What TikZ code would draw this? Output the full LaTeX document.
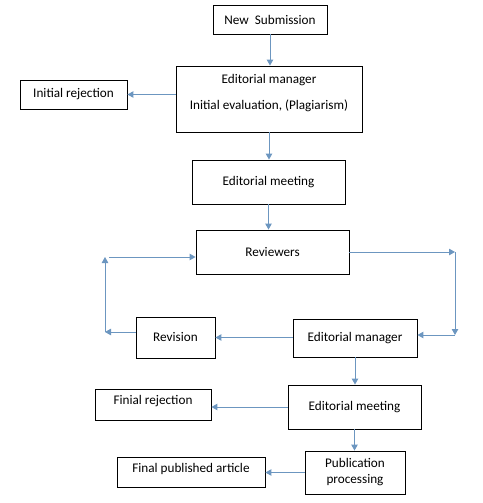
\documentclass[tikz,border=0pt]{standalone}
\usepackage{fontspec}
\setmainfont{Carlito}
\usetikzlibrary{arrows.meta}
\definecolor{arr}{RGB}{108,150,192}
\begin{document}
\begin{tikzpicture}[x=1pt,y=-1pt,
  box/.style={draw=black,line width=0.9pt,inner sep=0pt,align=center,font=\fontsize{13.2}{16}\selectfont},
  txt/.style={inner sep=0pt,align=center,font=\fontsize{13.2}{16}\selectfont},
  conn/.style={draw=arr,line width=1pt,-{Triangle[length=6pt,width=6.5pt]}}]
\useasboundingbox (0,0) rectangle (482,503);
\node[box,minimum width=114,minimum height=29] (ns) at (270,19.5) {New\ \ Submission};
\node[box,minimum width=186,minimum height=66] (em1) at (269,99) {};
\node[txt] (em1t) at (269,93.5) {Editorial manager\\[10pt]Initial evaluation, (Plagiarism)};
\node[box,minimum width=107,minimum height=29] (ir) at (73.5,94.5) {Initial rejection};
\node[box,minimum width=153,minimum height=44] (emeet1) at (268.5,182) {Editorial meeting};
\node[box,minimum width=153,minimum height=44] (rev) at (272.5,252) {Reviewers};
\node[box,minimum width=124,minimum height=38] (em2) at (355,338) {Editorial manager};
\node[box,minimum width=79,minimum height=41] (revis) at (175.5,337.5) {Revision};
\node[box,minimum width=133,minimum height=44] (emeet2) at (354.5,407) {Editorial meeting};
\node[box,minimum width=116,minimum height=31] (fr) at (153,404.5) {};
\node[txt] (frt) at (153,401) {Finial rejection};
\node[box,minimum width=100,minimum height=43] (pp) at (355,472.5) {Publication\\processing};
\node[box,minimum width=148,minimum height=30] (fpa) at (191,472) {};
\node[txt] (fpat) at (191,469) {Final published article};
\coordinate (c1) at (455,252);
\coordinate (c2) at (455,335);
\coordinate (c3) at (105,332);
\coordinate (c4) at (105,257);
\coordinate (c5) at (109,257);
\draw[conn] (ns.south) -- (ns.south |- em1.north);
\draw[conn] (em1.west |- ir.east) -- (ir.east);
\draw[conn] (em1.south) -- (em1.south |- emeet1.north);
\draw[conn] (emeet1.south) -- (emeet1.south |- rev.north);
\draw[conn] (rev.east) -- (c1);
\draw[conn] (c1) -- (c2);
\draw[conn] (c2) -- (em2.east |- c2);
\draw[conn] (em2.west |- revis.east) -- (revis.east);
\draw[conn] (revis.west |- c3) -- (c3);
\draw[conn] (c3) -- (c4);
\draw[conn] (c5) -- (rev.west |- c5);
\draw[conn] (em2.south) -- (em2.south |- emeet2.north);
\draw[conn] (emeet2.west) -- (emeet2.west -| fr.east);
\draw[conn] (emeet2.south) -- (emeet2.south |- pp.north);
\draw[conn] (pp.west) -- (pp.west -| fpa.east);
\end{tikzpicture}
\end{document}
